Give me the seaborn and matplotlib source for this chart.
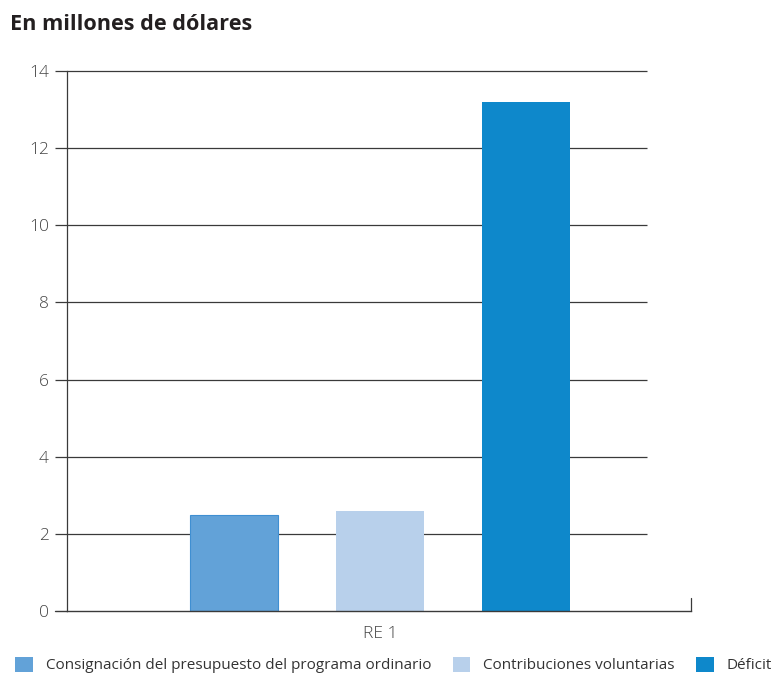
import matplotlib
matplotlib.use("Agg")
import matplotlib.pyplot as plt
import seaborn as sns
import pandas as pd
from matplotlib.lines import Line2D

categories = ["RE 1"]
series = ["Consignación del presupuesto del programa ordinario",
          "Contribuciones voluntarias",
          "Déficit"]
values = [2.5, 2.6, 13.2]
colors = ["#62A2D8", "#B8D0EB", "#0E88CB"]
yticks = [0, 2, 4, 6, 8, 10, 12, 14]

df = pd.DataFrame({"grupo": categories * len(series), "serie": series, "valor": values})

sns.set_theme(style="white")
plt.rcParams['font.family'] = ['Open Sans', 'DejaVu Sans']

W, H = 777, 675
fig = plt.figure(figsize=(W / 100, H / 100), dpi=100)
L, R, T, B = 67, 691, 71, 611
ax = fig.add_axes([L / W, 1 - B / H, (R - L) / W, (B - T) / H])

sns.barplot(data=df, x="grupo", y="valor", hue="serie", palette=colors,
            gap=0.4, width=0.8, ax=ax, legend=True, saturation=1,
            edgecolor="none", linewidth=0)
ax.patches[0].set_edgecolor("#3F8FD2")
ax.patches[0].set_linewidth(0.8)

ax.set_ylim(0, 14)
ax.set_xlim(-0.572, 0.568)
ax.set_yticks(yticks)
ax.set_xlabel("")
ax.set_ylabel("")

gx1 = (55 - L) / (R - L)
gx2 = (647 - L) / (R - L)
ax.hlines(yticks[1:], gx1, gx2, transform=ax.get_yaxis_transform(),
          colors="#3a3a3a", linewidth=0.9, clip_on=False, zorder=0)

for s in ["top", "right"]:
    ax.spines[s].set_visible(False)
ax.spines["left"].set_color("#3a3a3a")
ax.spines["left"].set_linewidth(0.9)
ax.spines["bottom"].set_color("#3a3a3a")
ax.spines["bottom"].set_linewidth(1.0)
ax.add_line(Line2D([1, 1], [0, 13 / (B - T)], transform=ax.transAxes,
                   color="#3a3a3a", linewidth=0.9, clip_on=False))
ax.add_line(Line2D([gx1, 0], [0, 0], transform=ax.transAxes,
                   color="#3a3a3a", linewidth=1.0, clip_on=False))

ax.tick_params(axis="y", length=0, pad=13, labelsize=12.5, labelcolor="#444444")
ax.tick_params(axis="x", length=0, pad=11, labelsize=12.5, labelcolor="#444444")
for lab in ax.get_yticklabels() + ax.get_xticklabels():
    lab.set_fontweight("light")

fig.text(10 / W, 1 - 25 / H, "En millones de dólares", fontsize=15.6, fontweight="bold",
         color="#231F20", va="center", ha="left")

handles, labels = ax.get_legend_handles_labels()
ax.get_legend().remove()
fig.legend(handles, labels, loc="center left", bbox_to_anchor=(9 / W, 1 - 665 / H),
           ncol=3, frameon=False, fontsize=11.0, handlelength=1.15, handleheight=1.15,
           handletextpad=0.85, columnspacing=1.4, borderaxespad=0, labelcolor="#333333")

fig.savefig("out.png", dpi=100)
